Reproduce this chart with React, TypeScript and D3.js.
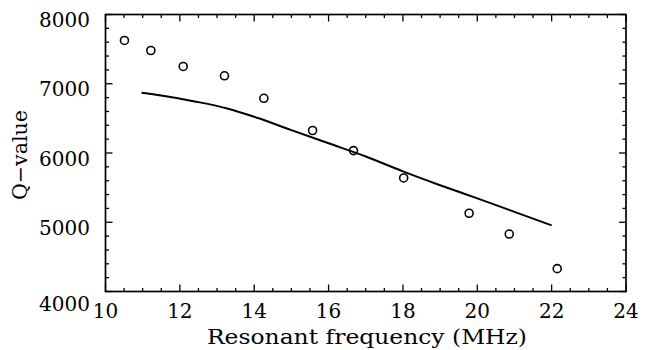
import React from "react";
import * as d3 from "d3";

const measuredFreq = [10.51, 11.22, 12.09, 13.2, 14.26, 15.57, 16.67, 18.02, 19.78, 20.86, 22.15];
const measuredQ = [7625, 7480, 7250, 7115, 6790, 6325, 6035, 5640, 5130, 4830, 4330];

const calcFreq = [10.97, 11.5, 12.4, 13.3, 14.1, 15.0, 16.0, 17.0, 18.0, 19.0, 20.0, 21.0, 22.0];
const calcQ = [6870, 6830, 6745, 6640, 6505, 6330, 6140, 5950, 5735, 5535, 5345, 5150, 4955];

const xTicks = [10, 12, 14, 16, 18, 20, 22, 24];
const yTicks = [4000, 5000, 6000, 7000, 8000];

const W = 653;
const H = 350;
const L = 105.5, R = 626, T = 14.5, B = 291.5;

export default function App() {
  const x = d3.scaleLinear().domain([10, 24]).range([L, R]);
  const y = d3.scaleLinear().domain([4000, 8000]).range([B, T]);
  const xMinor = d3.range(10, 24.001, 0.5).filter((v) => !xTicks.includes(v));
  const yMinor = d3.range(4000, 8001, 200).filter((v) => !yTicks.includes(v));
  const line = d3
    .line<number>()
    .x((_, i) => x(calcFreq[i]))
    .y((d) => y(d))
    .curve(d3.curveMonotoneX);
  const font = "'DejaVu Serif', serif";
  const MJ = 7, MN = 3.5;
  return (
    <svg width={W} height={H} style={{ position: "absolute", left: 0, top: 0, background: "#fff" }}>
      <rect x={L} y={T} width={R - L} height={B - T} fill="none" stroke="#000" strokeWidth={1.7} />
      <g stroke="#000" strokeWidth={1.3}>
        {xTicks.map((t) => (
          <g key={"xt" + t}>
            <line x1={x(t)} x2={x(t)} y1={B} y2={B - MJ} />
            <line x1={x(t)} x2={x(t)} y1={T} y2={T + MJ} />
          </g>
        ))}
        {xMinor.map((t) => (
          <g key={"xm" + t}>
            <line x1={x(t)} x2={x(t)} y1={B} y2={B - MN} />
            <line x1={x(t)} x2={x(t)} y1={T} y2={T + MN} />
          </g>
        ))}
        {yTicks.map((t) => (
          <g key={"yt" + t}>
            <line x1={L} x2={L + MJ} y1={y(t)} y2={y(t)} />
            <line x1={R} x2={R - MJ} y1={y(t)} y2={y(t)} />
          </g>
        ))}
        {yMinor.map((t) => (
          <g key={"ym" + t}>
            <line x1={L} x2={L + MN} y1={y(t)} y2={y(t)} />
            <line x1={R} x2={R - MN} y1={y(t)} y2={y(t)} />
          </g>
        ))}
      </g>
      <g fontFamily={font} fontSize={20} fill="#000">
        {xTicks.map((t) => (
          <text key={"xl" + t} x={x(t)} y={318} textAnchor="middle">
            {t}
          </text>
        ))}
        {yTicks.map((t) => (
          <text key={"yl" + t} x={90} y={y(t) + (t === 4000 ? 12 : 5.5)} dy="0.36em" textAnchor="end">
            {t}
          </text>
        ))}
        <text x={207} y={344} textLength={320} lengthAdjust="spacingAndGlyphs">
          Resonant frequency (MHz)
        </text>
        <text
          transform={`translate(27,200) rotate(-90)`}
          textLength={90}
          lengthAdjust="spacingAndGlyphs"
        >
          Q−value
        </text>
      </g>
      <path d={line(calcQ) || ""} fill="none" stroke="#000" strokeWidth={2} />
      {measuredFreq.map((f, i) => (
        <circle key={"c" + i} cx={x(f)} cy={y(measuredQ[i])} r={4} fill="none" stroke="#000" strokeWidth={1.6} />
      ))}
    </svg>
  );
}
